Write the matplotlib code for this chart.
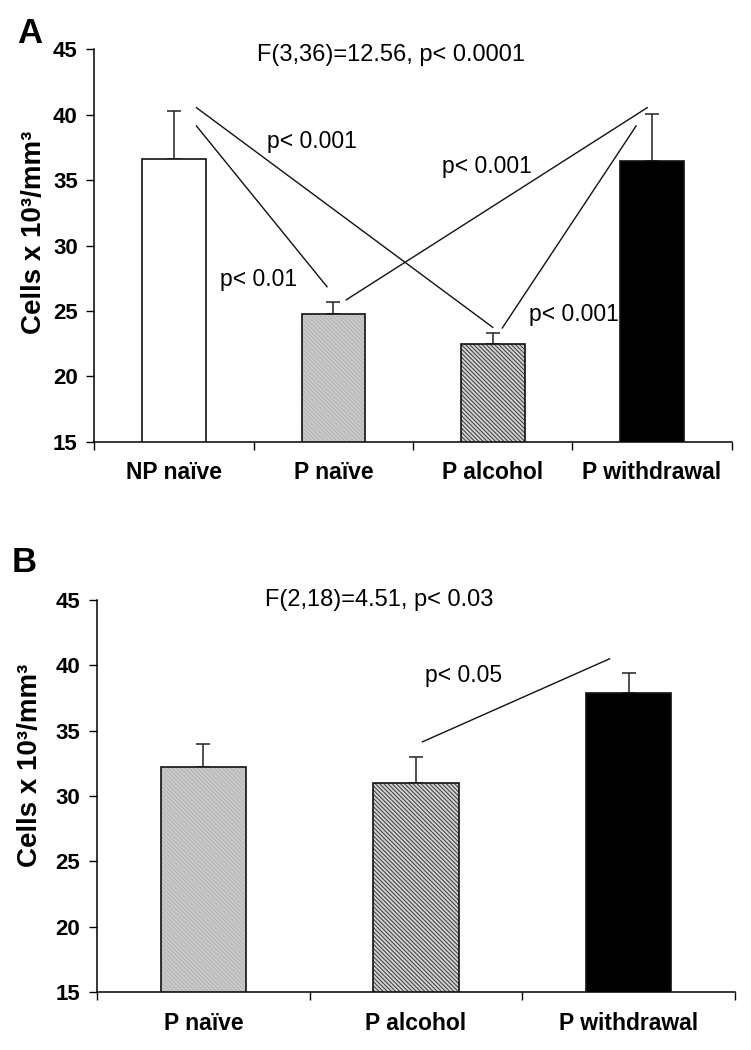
import matplotlib
matplotlib.use("Agg")
import matplotlib.pyplot as plt
import numpy as np

plt.rcParams['font.family'] = ['Liberation Sans', 'DejaVu Sans']
plt.rcParams['hatch.linewidth'] = 0.7

# ---------------- data ----------------
a_categories = ['NP naïve', 'P naïve', 'P alcohol', 'P withdrawal']
a_means = [36.6, 24.8, 22.5, 36.5]
a_errors = [3.7, 0.9, 0.8, 3.6]
a_stat = 'F(3,36)=12.56, p< 0.0001'

b_categories = ['P naïve', 'P alcohol', 'P withdrawal']
b_means = [32.2, 31.0, 37.9]
b_errors = [1.8, 2.0, 1.5]
b_stat = 'F(2,18)=4.51, p< 0.03'

# significance connector lines: (x0, y0, x1, y1) in category/value units
a_sig_lines = [(0.14, 40.55, 2.0, 23.75),
               (0.14, 39.15, 0.96, 26.85),
               (1.08, 25.85, 2.97, 40.55),
               (2.06, 23.7, 2.90, 39.15)]
a_sig_labels = [('p< 0.001', 0.58, 37.95),
                ('p< 0.001', 1.68, 36.05),
                ('p< 0.01', 0.29, 27.4),
                ('p< 0.001', 2.23, 24.7)]
b_sig_lines = [(1.03, 34.15, 1.91, 40.5)]
b_sig_labels = [('p< 0.05', 1.04, 39.2)]

styles = {
    'NP naïve': dict(face='white', hatch=None, hcolor='white'),
    'P naïve': dict(face='#cacaca', hatch='\\' * 8, hcolor='#b4b4b4'),
    'P alcohol': dict(face='#d0d0d0', hatch='\\' * 8, hcolor='#3a3a3a'),
    'P withdrawal': dict(face='black', hatch=None, hcolor='black'),
}

fig = plt.figure(figsize=(7.51, 10.5), dpi=100)
axA = fig.add_axes([0.1258, 0.5793, 0.8485, 0.3736])
axB = fig.add_axes([0.1292, 0.0550, 0.8495, 0.3736])


def draw_panel(ax, cats, means, errs, stat, stat_x, stat_y, lines, labels, ylab_xy):
    x = np.arange(len(cats))
    for xi, c, m, e in zip(x, cats, means, errs):
        st = styles[c]
        ax.errorbar([xi], [m], yerr=[[0], [e]], fmt='none', ecolor='#222222',
                    elinewidth=1.1, capsize=5, capthick=1.1, zorder=1)
        ax.bar([xi], [m], width=0.4, color=st['face'], hatch=st['hatch'],
               edgecolor=st['hcolor'], linewidth=0, zorder=2)
        ax.bar([xi], [m], width=0.4, fill=False, edgecolor='#111111',
               linewidth=1.2, zorder=3)
    ax.set_xlim(-0.5, len(cats) - 0.5)
    ax.set_ylim(15, 45)
    ax.set_yticks([15, 20, 25, 30, 35, 40, 45])
    ax.set_xticks(x)
    ax.set_xticklabels(cats, fontsize=16.5, fontweight='bold')
    ax.set_xticks(np.arange(len(cats) + 1) - 0.5, minor=True)
    ax.tick_params(axis='x', which='major', length=0, pad=14)
    ax.tick_params(axis='x', which='minor', length=6, width=1.0, direction='out')
    ax.tick_params(axis='y', length=6, width=1.0, pad=6, labelsize=16)
    for t in ax.get_yticklabels():
        t.set_fontweight('bold')
    for s in ['top', 'right']:
        ax.spines[s].set_visible(False)
    for s in ['left', 'bottom']:
        ax.spines[s].set_linewidth(1.1)
    ax.set_ylabel('Cells x 10³/mm³', fontsize=20, fontweight='bold')
    ax.yaxis.set_label_coords(*ylab_xy)
    ax.text(stat_x, stat_y, stat, transform=ax.transAxes, ha='center',
            va='center', fontsize=17)
    for (x0, y0, x1, y1) in lines:
        ax.plot([x0, x1], [y0, y1], color='#111111', lw=1.0, zorder=4,
                clip_on=False)
    for (txt, tx, ty) in labels:
        ax.text(tx, ty, txt, ha='left', va='center', fontsize=16.5, zorder=5)


draw_panel(axA, a_categories, a_means, a_errors, a_stat, 0.465, 0.986,
           a_sig_lines, a_sig_labels, (-0.075, 0.535))
draw_panel(axB, b_categories, b_means, b_errors, b_stat, 0.442, 1.0,
           b_sig_lines, b_sig_labels, (-0.084, 0.579))

fig.text(17 / 751, 1 - 43 / 1050, 'A', fontsize=25, fontweight='bold',
         ha='left', va='baseline')
fig.text(12 / 751, 1 - 572 / 1050, 'B', fontsize=25, fontweight='bold',
         ha='left', va='baseline')

fig.savefig('out.png', dpi=100)
